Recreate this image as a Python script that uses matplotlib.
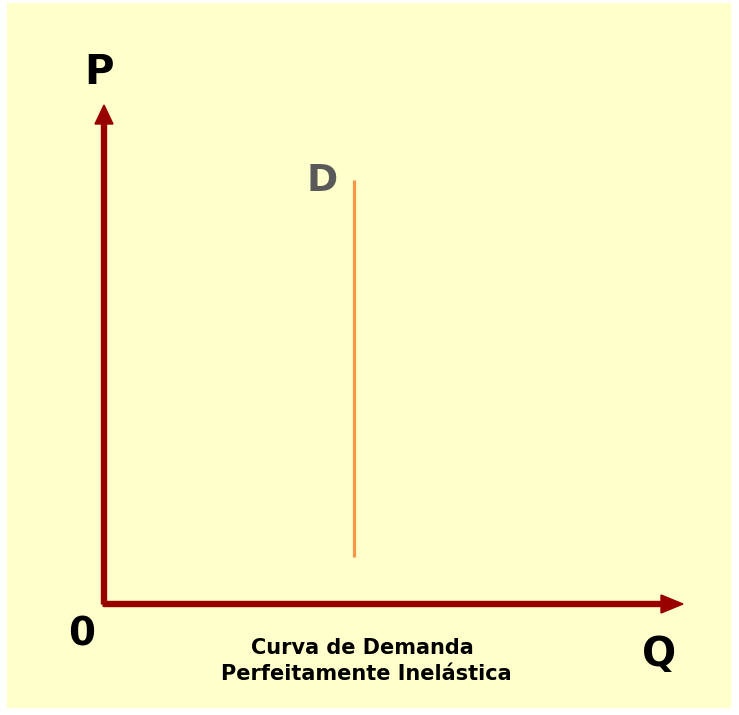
import matplotlib
matplotlib.use("Agg")
from matplotlib import pyplot as plt
from matplotlib.patches import Rectangle

# chart values (origin of the P/Q axes at 0, 0)
q_axis_end = 579
p_axis_end = 499
demand_q = 250
demand_p = [47, 424]
axis_labels = ["P", "Q", "0"]
curve_label = "D"
caption = ["Curva de Demanda", "Perfeitamente Inelástica"]

bg_color = "#FFFFCC"
axis_color = "#990000"
curve_color = "#F79646"


def draw_axes(ax):
    ax.arrow(0, 0, 0, p_axis_end - 19, width=5, head_width=18, head_length=19,
             length_includes_head=False, color=axis_color, zorder=3)
    ax.arrow(0, 0, q_axis_end - 22, 0, width=5, head_width=18, head_length=22,
             length_includes_head=False, color=axis_color, zorder=3)
    ax.plot([-2.5, 0], [0, 0], color=axis_color, lw=3.6, solid_capstyle="butt")


def draw_labels(ax):
    font = dict(family="DejaVu Sans", weight="bold", ha="center", va="center")
    ax.text(-5, 531, axis_labels[0], fontsize=29, color="black", **font)
    ax.text(555, -51, axis_labels[1], fontsize=29, color="black", **font)
    ax.text(-22, -30, axis_labels[2], fontsize=28, color="black", **font)
    ax.text(demand_q - 32, 423, curve_label, fontsize=27, color="#595959", **font)
    ax.text(258, -44, caption[0], fontsize=15, color="black", **font)
    ax.text(262, -70, caption[1], fontsize=15, color="black", **font)


def main():
    fig = plt.figure(figsize=(7.39, 7.15), dpi=100)
    ax = fig.add_axes([0, 0, 1, 1])
    ax.set_xlim(-104, 635)
    ax.set_ylim(-111, 604)
    ax.axis("off")
    ax.add_patch(Rectangle((-97, -103), 723, 704, color=bg_color, zorder=0))

    draw_axes(ax)
    ax.plot([demand_q, demand_q], demand_p, color=curve_color, lw=2.3,
            solid_capstyle="butt", zorder=2)
    draw_labels(ax)

    fig.savefig("out.png", dpi=100, facecolor="white")


if __name__ == "__main__":
    main()
